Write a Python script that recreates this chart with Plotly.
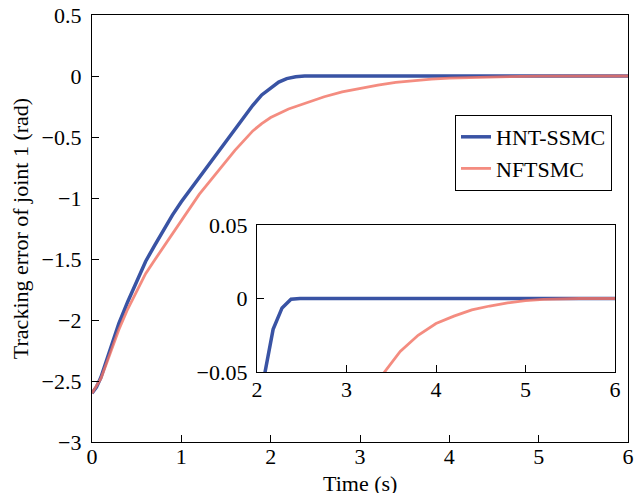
import plotly.graph_objects as go

# HNT-SSMC tracking error (rad)
t_hnt = [0.0, 0.05, 0.1, 0.2, 0.3, 0.4, 0.5, 0.6, 0.7, 0.8, 0.9, 1.0, 1.1, 1.2, 1.3,
         1.4, 1.5, 1.6, 1.7, 1.8, 1.9, 2.0, 2.09, 2.18, 2.28, 2.38, 2.48, 3.0, 4.0, 5.0, 6.0]
e_hnt = [-2.60, -2.55, -2.47, -2.26, -2.03, -1.85, -1.68, -1.52, -1.39, -1.26, -1.14,
         -1.03, -0.93, -0.83, -0.73, -0.63, -0.53, -0.43, -0.33, -0.24, -0.155, -0.095,
         -0.05, -0.021, -0.0064, -0.0005, 0.0, 0.0, 0.0, 0.0, 0.0]

# NFTSMC tracking error (rad)
t_nft = [0.0, 0.1, 0.2, 0.3, 0.4, 0.5, 0.6, 0.7, 0.8, 0.9, 1.0, 1.1, 1.2, 1.3, 1.4,
         1.5, 1.6, 1.7, 1.8, 1.9, 2.0, 2.2, 2.4, 2.6, 2.8, 3.0, 3.2, 3.4, 3.6, 3.8,
         4.0, 4.2, 4.4, 4.6, 4.8, 5.0, 5.2, 5.4, 5.6, 6.0]
e_nft = [-2.60, -2.48, -2.28, -2.08, -1.91, -1.76, -1.62, -1.51, -1.40, -1.30, -1.19,
         -1.08, -0.97, -0.88, -0.79, -0.70, -0.61, -0.53, -0.45, -0.39, -0.34, -0.27,
         -0.22, -0.17, -0.13, -0.10, -0.075, -0.052, -0.036, -0.025, -0.017, -0.012,
         -0.0078, -0.0051, -0.0030, -0.0015, -0.0006, -0.0002, 0.0, 0.0]

names = ["HNT-SSMC", "NFTSMC"]
x_ticks = [0, 1, 2, 3, 4, 5, 6]
y_ticks = [0.5, 0, -0.5, -1, -1.5, -2, -2.5, -3]
x_ticks_in = [2, 3, 4, 5, 6]
y_ticks_in = [0.05, 0, -0.05]
x_title = "Time (s)"
y_title = "Tracking error of joint 1 (rad)"

BLUE = "#3953a4"
RED = "rgba(242,115,100,0.82)"
FONT = 'Liberation Serif, "Times New Roman", Times, serif'
FS = 22

fig = go.Figure()
# main
fig.add_trace(go.Scatter(x=t_hnt, y=e_hnt, mode="lines", name=names[0],
                         line=dict(color=BLUE, width=3.5), xaxis="x", yaxis="y"))
fig.add_trace(go.Scatter(x=t_nft, y=e_nft, mode="lines", name=names[1],
                         line=dict(color=RED, width=2.8), xaxis="x", yaxis="y"))
# inset
fig.add_trace(go.Scatter(x=t_hnt, y=e_hnt, mode="lines", showlegend=False,
                         line=dict(color=BLUE, width=3.5), xaxis="x2", yaxis="y2"))
fig.add_trace(go.Scatter(x=t_nft, y=e_nft, mode="lines", showlegend=False,
                         line=dict(color=RED, width=2.8), xaxis="x2", yaxis="y2"))

ax_common = dict(showgrid=False, zeroline=False, showline=True, linecolor="black",
                 linewidth=1.3, mirror=True, ticks="inside", ticklen=7, tickwidth=1.3,
                 tickcolor="black", automargin=False,
                 tickfont=dict(family=FONT, size=FS, color="black"))

fig.update_layout(
    width=636, height=493,
    margin=dict(l=0, r=0, t=0, b=0, autoexpand=False),
    paper_bgcolor="white", plot_bgcolor="white",
    font=dict(family=FONT, size=FS, color="black"),
    xaxis=dict(domain=[92/636, 628/636], range=[0, 6], tickvals=x_ticks,
               anchor="y", ticklabelstandoff=-6, **ax_common),
    yaxis=dict(domain=[1-442/493, 1-15/493], range=[-3, 0.5], tickvals=y_ticks,
               title=dict(text=y_title, font=dict(family=FONT, size=FS), standoff=6),
               anchor="x", ticklabelstandoff=5, **ax_common),
    xaxis2=dict(domain=[257/636, 615/636], range=[2, 6], tickvals=x_ticks_in,
                anchor="y2", ticklabelstandoff=-3, **ax_common),
    yaxis2=dict(domain=[1-372/493, 1-225/493], range=[-0.05, 0.05], tickvals=y_ticks_in,
                anchor="x2", ticklabelstandoff=4, **ax_common),
    legend=dict(x=612/636, y=1-115/493, xanchor="right", yanchor="top",
                bgcolor="white", bordercolor="black", borderwidth=1,
                font=dict(family=FONT, size=FS, color="black"),
                itemwidth=30, tracegroupgap=0),
    showlegend=True,
    annotations=[dict(text=x_title, xref="x domain", yref="paper", x=0.5,
                      y=(493 - 483) / 493, xanchor="center", yanchor="middle",
                      showarrow=False, font=dict(family=FONT, size=FS, color="black"))],
)

fig.write_html("out.html", config={"displayModeBar": False},
               post_script="document.body.style.margin='0';document.body.style.padding='0';")
